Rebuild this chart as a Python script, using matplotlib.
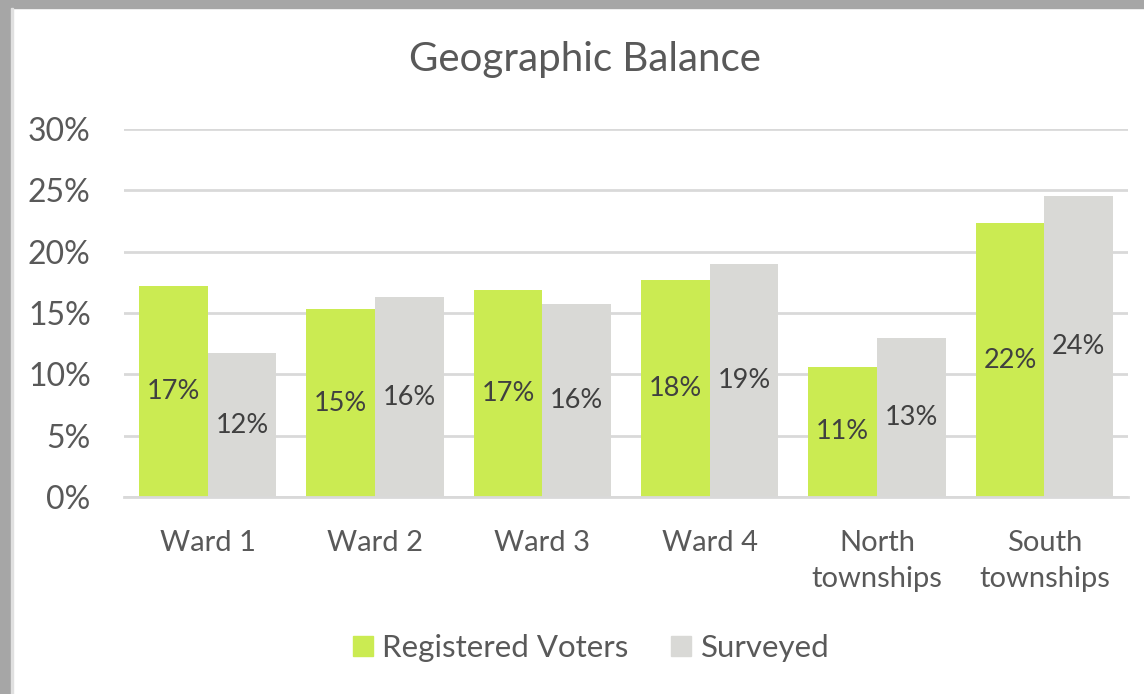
import numpy as np
import matplotlib.pyplot as plt
from matplotlib.patches import Patch, Rectangle

# Data
categories = ["Ward 1", "Ward 2", "Ward 3", "Ward 4", "North\ntownships", "South\ntownships"]
registered = [17.2, 15.3, 16.9, 17.7, 10.6, 22.3]
surveyed = [11.7, 16.3, 15.7, 19.0, 13.0, 24.5]
yticks = [0, 5, 10, 15, 20, 25, 30]

green = "#cbeb52"
grey = "#d9d9d6"
text_col = "#595959"
label_col = "#404040"

plt.rcParams['font.family'] = ['Lato', 'DejaVu Sans']

W, H = 1144, 694
fig = plt.figure(figsize=(W / 100, H / 100), dpi=100)

# grey frame around the chart (screenshot border)
fig.patches.append(Rectangle((0, 1 - 8 / H), 1, 8 / H, transform=fig.transFigure,
                             color="#a6a6a6", zorder=0))
fig.patches.append(Rectangle((0, 0), 11 / W, 1, transform=fig.transFigure,
                             color="#a6a6a6", zorder=0))
fig.patches.append(Rectangle((11 / W, 0), 2 / W, 1 - 8 / H, transform=fig.transFigure,
                             color="#e0e0e0", zorder=0))

left, right, top, bottom = 124, 1128, 129, 497
ax = fig.add_axes([left / W, 1 - bottom / H, (right - left) / W, (bottom - top) / H])

x = np.arange(len(categories))
bw = 0.41
b1 = ax.bar(x - bw / 2, registered, bw, color=green, label="Registered Voters", zorder=2)
b2 = ax.bar(x + bw / 2, surveyed, bw, color=grey, label="Surveyed", zorder=2)

for bars, vals in [(b1, registered), (b2, surveyed)]:
    for rect, v in zip(bars, vals):
        ax.text(rect.get_x() + rect.get_width() / 2, v / 2, f"{round(v):.0f}%",
                ha="center", va="center", fontsize=19.5, color=label_col, zorder=3)

ax.set_xlim(-0.5, len(categories) - 0.5)
ax.set_ylim(0, 30)
ax.set_yticks(yticks)
ax.set_yticklabels([f"{t}%" for t in yticks])
ax.set_xticks(x)
ax.set_xticklabels(categories, linespacing=1.48)
ax.tick_params(axis="y", length=0, pad=24, labelsize=23, labelcolor=text_col)
ax.tick_params(axis="x", length=0, pad=24, labelsize=21, labelcolor=text_col)
for lab in ax.get_xticklabels():
    lab.set_verticalalignment("top")

ax.grid(axis="y", color="#d9d9d9", linewidth=2, zorder=0)
ax.set_axisbelow(True)
for s in ["top", "right", "left"]:
    ax.spines[s].set_visible(False)
ax.spines["bottom"].set_color("#d9d9d9")
ax.spines["bottom"].set_linewidth(2)

fig.text(585 / W, 1 - 60 / H, "Geographic Balance", ha="center", va="center",
         fontsize=29, color=text_col)

handles = [Patch(color=green, label="Registered Voters"), Patch(color=grey, label="Surveyed")]
fig.legend(handles=handles, loc="center", bbox_to_anchor=(591 / W, 1 - 648 / H), ncol=2,
           frameon=False, fontsize=22.5, handlelength=0.64, handleheight=0.64,
           handletextpad=0.3, columnspacing=1.38, labelcolor=text_col)

fig.savefig("out.png", dpi=100)
